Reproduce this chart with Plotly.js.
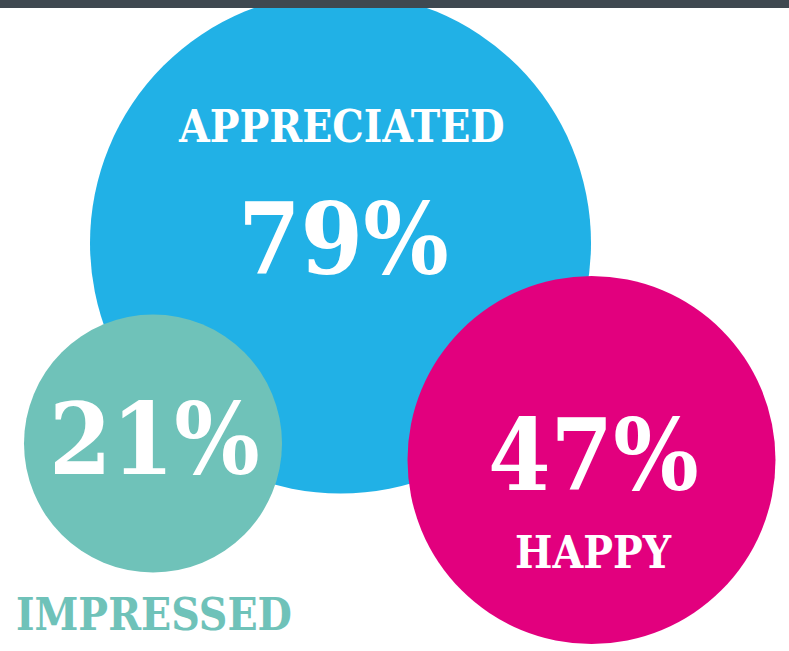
<!DOCTYPE html>
<html>
<head>
<meta charset="utf-8">
<script src="https://cdn.plot.ly/plotly-3.0.1.min.js"></script>
<style>
  html, body { margin: 0; padding: 0; background: #ffffff; }
  #chart { width: 789px; height: 651px; }
</style>
</head>
<body>
<div id="chart"></div>
<script>
// ---- data ----
const categories = ['APPRECIATED', 'IMPRESSED', 'HAPPY'];
const values = [79, 21, 47];
const valueLabels = values.map(v => v + '%');

// ---- styling / layout (positions in a 789x651 pixel-like frame) ----
const colors = ['#21b1e6', '#6fc2b9', '#e2007e'];
const bubbleX = [340.5, 153, 591.5];
const bubbleY = [243, 443.5, 460];
const bubbleDiameter = [501, 258, 368];

const valuePos = [[343, 239], [154, 439], [593, 455]];
const labelPos = [[341, 126], [154, 614], [593, 552]];
const labelColors = ['#ffffff', '#6fc2b9', '#ffffff'];

const FONT = '"DejaVu Serif Condensed", "DejaVu Serif", serif';

const trace = {
  type: 'scatter',
  mode: 'markers',
  x: bubbleX,
  y: bubbleY,
  text: categories,
  customdata: values,
  marker: {
    size: bubbleDiameter,
    sizemode: 'diameter',
    color: colors,
    opacity: 1,
    line: { width: 0 }
  },
  cliponaxis: false,
  hoverinfo: 'skip',
  showlegend: false
};

const annotations = [];
categories.forEach((c, i) => {
  annotations.push({
    x: valuePos[i][0], y: valuePos[i][1], xref: 'x', yref: 'y',
    text: valueLabels[i], showarrow: false,
    xanchor: 'center', yanchor: 'middle',
    font: { family: FONT, size: 100, color: '#ffffff', weight: 'bold' }
  });
  annotations.push({
    x: labelPos[i][0], y: labelPos[i][1], xref: 'x', yref: 'y',
    text: c, showarrow: false,
    xanchor: 'center', yanchor: 'middle',
    font: { family: FONT, size: 44, color: labelColors[i], weight: 'bold' }
  });
});

const layout = {
  width: 789, height: 651,
  margin: { l: 0, r: 0, t: 0, b: 0, pad: 0 },
  paper_bgcolor: '#ffffff',
  plot_bgcolor: '#ffffff',
  xaxis: { range: [0, 789], visible: false, fixedrange: true },
  yaxis: { range: [651, 0], visible: false, fixedrange: true },
  shapes: [{
    type: 'rect', xref: 'paper', yref: 'y',
    x0: 0, x1: 1, y0: 0, y1: 8,
    fillcolor: '#3f4850', line: { width: 0 }, layer: 'above'
  }],
  annotations: annotations,
  showlegend: false
};

Plotly.newPlot('chart', [trace], layout, { displayModeBar: false, staticPlot: true });
</script>
</body>
</html>
